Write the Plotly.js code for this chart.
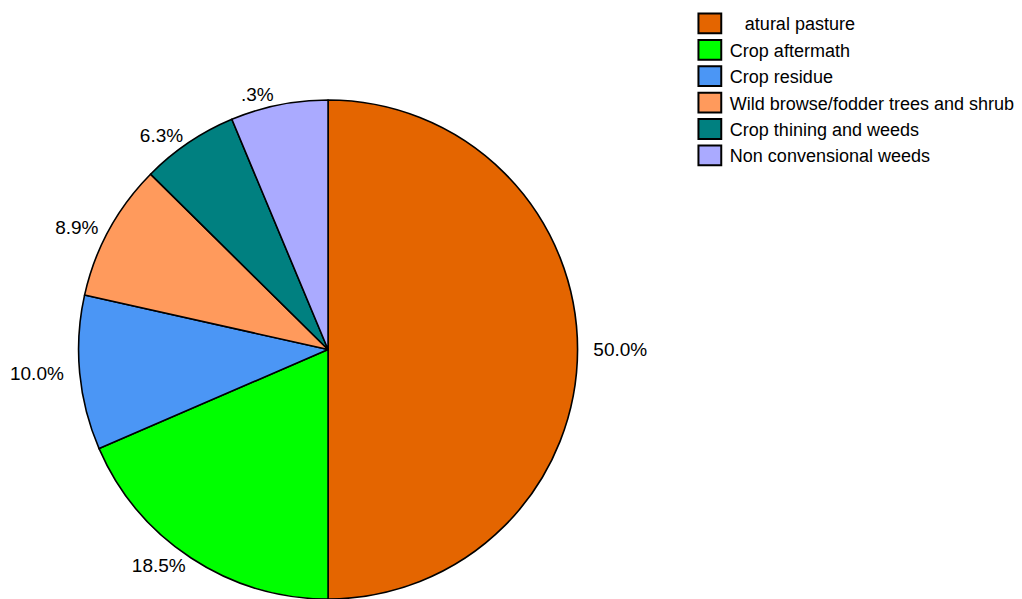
<!DOCTYPE html>
<html>
<head>
<meta charset="utf-8">
<script src="https://cdn.plot.ly/plotly-3.0.1.min.js"></script>
<style>html,body{margin:0;padding:0;background:#fff;}#chart{width:1022px;height:599px;}</style>
</head>
<body>
<div id="chart"></div>
<script>
const categories = ["\u00a0\u00a0\u00a0atural pasture", "Crop aftermath", "Crop residue", "Wild browse/fodder trees and shrub", "Crop thining and weeds", "Non convensional weeds"];
const values = [50.0, 18.5, 10.0, 8.9, 6.3, 6.3];
const sliceLabels = ["50.0%", "18.5%", "10.0%", "8.9%", "6.3%", ".3%"];
const colors = ["#E46500", "#00FF00", "#4B96F5", "#FF9A5C", "#008080", "#AAAAFF"];

// spacing (in non-breaking spaces) before / after each outside label, to set its distance from the pie
const padBefore = [2, 0, 0, 0, 0, 0];
const padAfter = [0, 0, 2, 1, 0, 0];

const FONT = "Liberation Sans, Arial, sans-serif";
const NB = "\u00a0";
const displayText = sliceLabels.map(function (s, i) {
  return NB.repeat(padBefore[i]) + s + NB.repeat(padAfter[i]);
});

const trace = {
  type: "pie",
  labels: categories,
  values: values,
  text: displayText,
  textinfo: "text",
  textposition: "outside",
  sort: false,
  direction: "clockwise",
  rotation: 0,
  hoverinfo: "label+percent",
  marker: { colors: colors, line: { color: "#000000", width: 1.6 } },
  outsidetextfont: { family: FONT, size: 19, color: "#000000" },
  domain: { x: [0.076, 0.566], y: [0, 1] },
  automargin: false
};

const layout = {
  width: 1022,
  height: 599,
  paper_bgcolor: "#ffffff",
  plot_bgcolor: "#ffffff",
  margin: { l: 0, r: 0, t: 100, b: 0, autoexpand: false },
  showlegend: true,
  legend: {
    x: 0.675, y: 1.19, xanchor: "left", yanchor: "top",
    font: { family: FONT, size: 18, color: "#000000" },
    bgcolor: "rgba(0,0,0,0)",
    traceorder: "normal"
  },
  font: { family: FONT, color: "#000000" }
};

Plotly.newPlot("chart", [trace], layout, { displayModeBar: false, staticPlot: true }).then(function (gd) {
  gd.querySelectorAll(".legend .legendpoints path").forEach(function (p) {
    const t = p.getAttribute("transform") || "";
    p.setAttribute("transform", t + " scale(1.9,1.65)");
    p.setAttribute("vector-effect", "non-scaling-stroke");
    p.style.strokeWidth = "2px";
  });
});
</script>
</body>
</html>
